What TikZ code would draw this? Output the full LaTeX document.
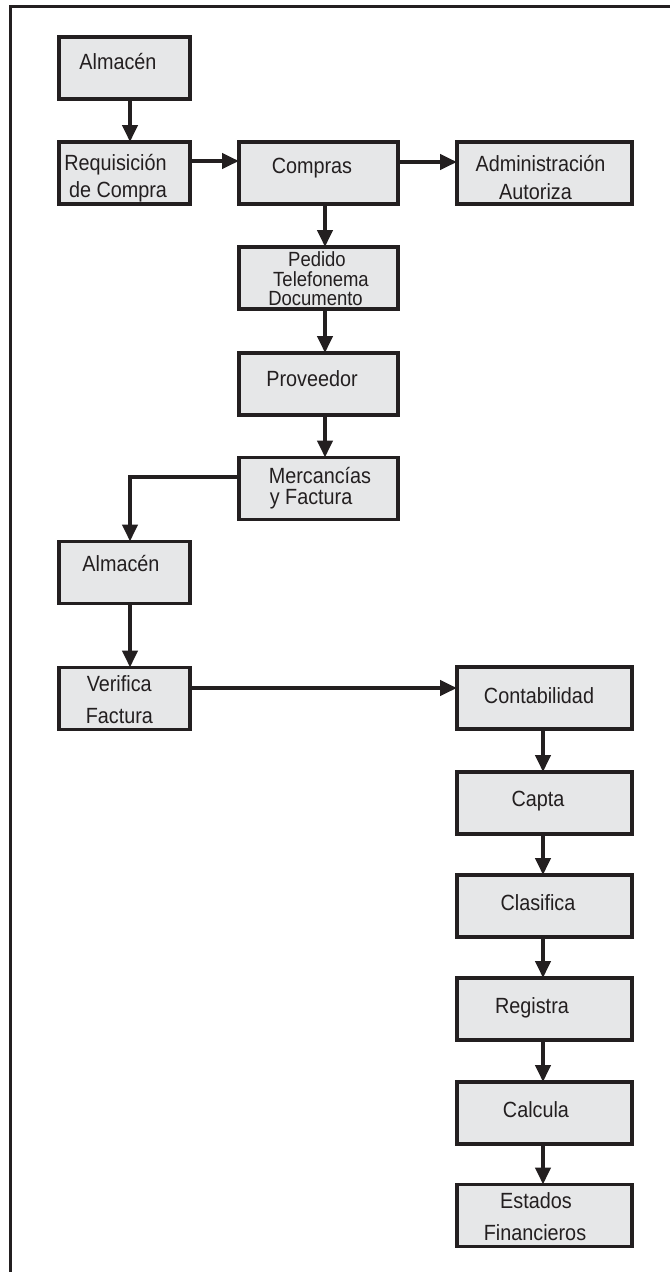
\documentclass[tikz,border=0pt]{standalone}
\usepackage{fontspec}
\setmainfont{Liberation Sans}[FakeStretch=0.9]
\usetikzlibrary{arrows.meta,calc}
\definecolor{ink}{HTML}{231F20}
\definecolor{boxfill}{HTML}{E6E7E8}
\begin{document}
\begin{tikzpicture}[x=0.75pt,y=-0.75pt,
  box/.style={draw=ink,fill=boxfill,line width=2.4pt,inner sep=0pt,outer sep=0pt,minimum height=46.5pt},
  lbox/.style={box,minimum width=98.25pt},
  mbox/.style={box,minimum width=119.25pt},
  rbox/.style={box,minimum width=131.25pt},
  txt/.style={text=ink,font=\fontsize{16.5pt}{18pt}\selectfont,inner sep=0pt,anchor=base},
  stxt/.style={txt,font=\fontsize{15.4pt}{17pt}\selectfont},
  ltxt/.style={txt,anchor=base west},
  conn/.style={draw=ink,line width=3pt},
  arr/.style={conn,-{Triangle[length=12.75pt,width=11.25pt]}},
]
\useasboundingbox (0,0) rectangle (670,1272);
\fill[white] (0,0) rectangle (670,1272);
% frame
\draw[ink,line width=2.2pt] (10.5,1280) -- (10.5,6.3) -- (680,6.3);

% boxes
\node[lbox] (A1) at (124.5,68) {};
\node[lbox] (Req) at (124.5,173) {};
\node[mbox] (Com) at (318.5,173) {};
\node[rbox] (Adm) at (544.5,173) {};
\node[mbox] (Ped) at (318.5,278) {};
\node[mbox] (Pro) at (318.5,384) {};
\node[mbox] (Mer) at (318.5,488.5) {};
\node[lbox] (A2) at (124.5,572.5) {};
\node[lbox] (Ver) at (124.5,698.5) {};
\node[rbox] (Con) at (544.5,698) {};
\node[rbox] (Cap) at (544.5,803) {};
\node[rbox] (Cla) at (544.5,906) {};
\node[rbox] (Reg) at (544.5,1009) {};
\node[rbox] (Cal) at (544.5,1113) {};
\node[rbox] (Est) at (544.5,1215.5) {};

% texts
\node[txt] (tA1) at (118,69) {Almacén};
\node[txt] (tReq1) at (115.5,170) {Requisición};
\node[txt] (tReq2) at (118,197) {de Compra};
\node[txt] (tCom) at (312,173) {Compras};
\node[txt] (tAdm1) at (540.5,171) {Administración};
\node[txt] (tAdm2) at (535.5,199) {Autoriza};
\node[stxt] (tPed1) at (317,266) {Pedido};
\node[stxt] (tPed2) at (321,286) {Telefonema};
\node[stxt] (tPed3) at (315.5,305) {Documento};
\node[txt] (tPro) at (312,386) {Proveedor};
\node[ltxt] (tMer1) at (268.5,483) {Mercancías};
\node[ltxt] (tMer2) at (269.5,504) {y Factura};
\node[txt] (tA2) at (121,571.5) {Almacén};
\node[ltxt] (tVer1) at (86.5,691.5) {Verifica};
\node[ltxt] (tVer2) at (85.5,723) {Factura};
\node[txt] (tCon) at (539,703) {Contabilidad};
\node[txt] (tCap) at (538,806.5) {Capta};
\node[txt] (tCla) at (538,910) {Clasifica};
\node[txt] (tReg) at (532,1013) {Registra};
\node[txt] (tCal) at (536,1117) {Calcula};
\node[txt] (tEst1) at (536,1208) {Estados};
\node[txt] (tEst2) at (535,1240) {Financieros};

% connectors
\draw[arr] ($(A1.south)+(5.5,0)$) -- ($(Req.north)+(5.5,0)$);
\draw[arr] ($(Req.east)+(0,-12)$) -- ($(Com.west)+(0,-12)$);
\draw[arr] ($(Com.east)+(0,-11)$) -- ($(Adm.west)+(0,-11)$);
\draw[arr] ($(Com.south)+(6.5,0)$) -- ($(Ped.north)+(6.5,0)$);
\draw[arr] ($(Ped.south)+(6.5,0)$) -- ($(Pro.north)+(6.5,0)$);
\draw[arr] ($(Pro.south)+(6.5,0)$) -- ($(Mer.north)+(6.5,0)$);
\draw[arr] ($(Mer.west)+(0,-11.5)$) -| ($(A2.north)+(5.5,0)$);
\draw[arr] ($(A2.south)+(5.5,0)$) -- ($(Ver.north)+(5.5,0)$);
\draw[arr] ($(Ver.east)+(0,-10.5)$) -- ($(Con.west)+(0,-10)$);
\draw[arr] ($(Con.south)+(-1.5,0)$) -- ($(Cap.north)+(-1.5,0)$);
\draw[arr] ($(Cap.south)+(-1.5,0)$) -- ($(Cla.north)+(-1.5,0)$);
\draw[arr] ($(Cla.south)+(-1.5,0)$) -- ($(Reg.north)+(-1.5,0)$);
\draw[arr] ($(Reg.south)+(-1.5,0)$) -- ($(Cal.north)+(-1.5,0)$);
\draw[arr] ($(Cal.south)+(-1.5,0)$) -- ($(Est.north)+(-1.5,0)$);
\end{tikzpicture}
\end{document}
